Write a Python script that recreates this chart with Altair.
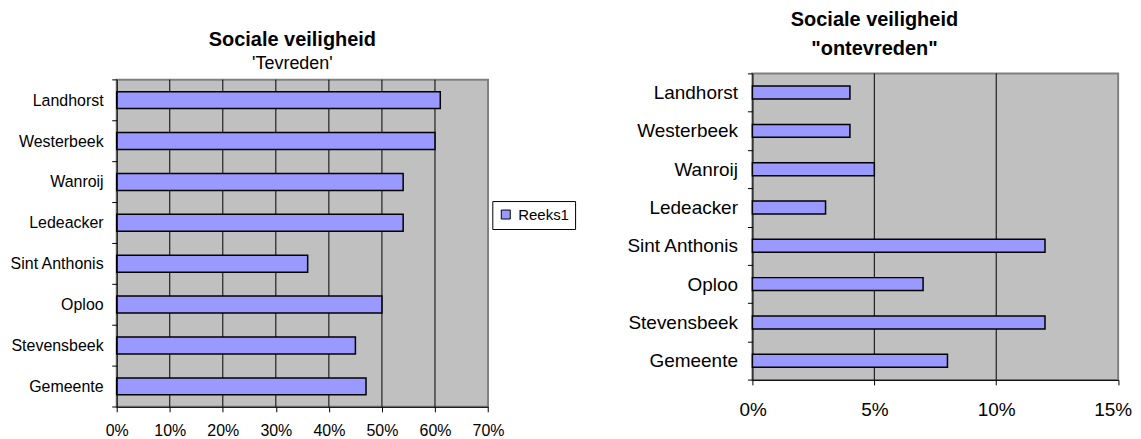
import altair as alt
import pandas as pd

FONT = "Liberation Sans"

# ---------------- data ----------------
places = ["Landhorst", "Westerbeek\u00a0", "Wanroij", "Ledeacker",
          "Sint Anthonis", "Oploo", "Stevensbeek", "Gemeente"]
tevreden = [0.61, 0.60, 0.54, 0.54, 0.36, 0.50, 0.45, 0.47]
ontevreden = [0.04, 0.04, 0.05, 0.03, 0.12, 0.07, 0.12, 0.08]
series = ["Reeks1"]
left_domain = [0.0, 0.7]
left_ticks = [0.0, 0.1, 0.2, 0.3, 0.4, 0.5, 0.6, 0.7]
left_grid = [0.1, 0.2, 0.3, 0.4, 0.5, 0.6]
right_domain = [0.0, 0.15]
right_ticks = [0.0, 0.05, 0.10, 0.15]
right_grid = [0.05, 0.10]

# ---------------- style ----------------
BAR = "#9999FF"
BG = "#C0C0C0"
BORDER = "#808080"

L_W, L_H, L_TOP = 372.3, 334.3, 6.3
R_W, R_H = 366.7, 307.3

df_l = pd.DataFrame({"plaats": places, "waarde": tevreden, "reeks": series[0]})
df_r = pd.DataFrame({"plaats": places, "waarde": ontevreden})
df_lbg = pd.DataFrame({"van": [left_domain[0]], "tot": [left_domain[1]]})
df_lgrid = pd.DataFrame({"g": left_grid})
df_rgrid = pd.DataFrame({"g": right_grid})

# ---------------- left chart ----------------
x_scale_l = alt.Scale(domain=left_domain, nice=False, zero=True)
x_axis_l = alt.Axis(values=left_ticks, format=".0%", title=None, grid=False,
                    tickSize=5, tickColor="black", domainColor="black",
                    labelFontSize=16, labelPadding=11, labelFlush=False,
                    labelOverlap=False, labelColor="black", zindex=1)
y_axis_l = alt.Axis(title=None, tickBand="extent", tickSize=5, tickColor="black",
                    domainColor="black", labelFontSize=16, labelPadding=8.6,
                    labelColor="black", grid=False, zindex=1)

bg_l = alt.Chart(df_lbg).mark_rect(fill=BG, stroke=BORDER, strokeWidth=2).encode(
    x=alt.X("van:Q", scale=x_scale_l, axis=x_axis_l),
    x2="tot:Q",
    y=alt.value(L_TOP),
    y2=alt.value(L_H),
)
grid_l = alt.Chart(df_lgrid).mark_rule(color="black", strokeWidth=1).encode(
    x=alt.X("g:Q", scale=x_scale_l, axis=x_axis_l),
    y=alt.value(L_TOP),
    y2=alt.value(L_H),
)
bars_l = alt.Chart(df_l).mark_bar(size=17, stroke="black", strokeWidth=1.5).encode(
    x=alt.X("waarde:Q", scale=x_scale_l, axis=x_axis_l),
    y=alt.Y("plaats:N", sort=places,
            scale=alt.Scale(range=[L_TOP, L_H], paddingInner=0, paddingOuter=0),
            axis=y_axis_l),
    fill=alt.Fill("reeks:N", scale=alt.Scale(domain=series, range=[BAR]),
                  legend=alt.Legend(title=None, orient="none", legendX=376.6, legendY=128,
                                    symbolType="square", symbolSize=81,
                                    symbolStrokeColor="black", symbolStrokeWidth=1,
                                    labelFontSize=15, labelColor="black", labelOffset=5,
                                    padding=6, strokeColor="black", fillColor="white",
                                    cornerRadius=0)),
)

left = alt.layer(bg_l, grid_l, bars_l).properties(
    width=L_W, height=L_H,
    view=alt.ViewBackground(fill="transparent", stroke="transparent"),
    title=alt.TitleParams(text="Sociale veiligheid", subtitle="'Tevreden'",
                          fontSize=20, fontWeight="bold", color="black",
                          subtitleFontSize=18, subtitleColor="black",
                          subtitlePadding=5.5, anchor="middle", frame="group",
                          dx=-10, dy=8, offset=0),
)

# ---------------- right chart ----------------
x_scale_r = alt.Scale(domain=right_domain, nice=False, zero=True)
x_axis_r = alt.Axis(values=right_ticks, format=".0%", title=None, grid=False,
                    tickSize=5, tickColor="black", domainColor="black",
                    labelFontSize=19, labelPadding=16, labelFlush=True,
                    labelFlushOffset=13.5,
                    labelOverlap=False, labelColor="black")
y_axis_r = alt.Axis(title=None, tickBand="extent", tickSize=5, tickColor="black",
                    domainColor="black", labelFontSize=19, labelPadding=10,
                    labelColor="black", grid=False)

grid_r = alt.Chart(df_rgrid).mark_rule(color="black", strokeWidth=1).encode(
    x=alt.X("g:Q", scale=x_scale_r, axis=x_axis_r),
)
bars_r = alt.Chart(df_r).mark_bar(size=13, fill=BAR, stroke="black", strokeWidth=1.5).encode(
    x=alt.X("waarde:Q", scale=x_scale_r, axis=x_axis_r),
    y=alt.Y("plaats:N", sort=places,
            scale=alt.Scale(paddingInner=0, paddingOuter=0), axis=y_axis_r),
)

right = alt.layer(grid_r, bars_r).properties(
    width=R_W, height=R_H,
    view=alt.ViewBackground(fill=BG, stroke=BORDER, strokeWidth=2),
    title=alt.TitleParams(text="Sociale veiligheid", subtitle='"ontevreden"',
                          fontSize=20, fontWeight="bold", color="black",
                          subtitleFontSize=20, subtitleFontWeight="bold",
                          subtitleColor="black", subtitlePadding=9.3,
                          anchor="middle", frame="group", dx=-61, offset=5.0),
)

chart = alt.hconcat(left, right, spacing=120.4).properties(
    padding={"left": 0, "top": 0, "right": 0, "bottom": 0},
).configure(font=FONT, background="white")

chart.save("out.html", embed_options={"renderer": "svg", "actions": False})
